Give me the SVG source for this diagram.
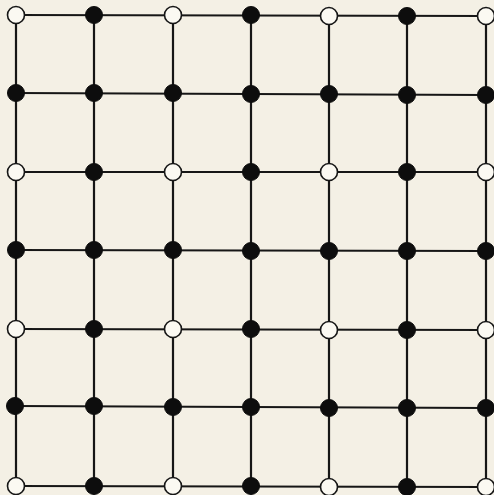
<svg xmlns="http://www.w3.org/2000/svg" width="494" height="495" viewBox="0 0 494 495">
<style>
.bg{fill:#f4f0e5}
.e line{stroke:#161616;stroke-width:2.2;stroke-linecap:round}
.f{fill:#0d0d0d;stroke:#0d0d0d;stroke-width:1}
.o{fill:#fbf9f2;stroke:#161616;stroke-width:1.6}
</style>
<rect class="bg" x="0" y="0" width="494" height="495"/>
<g id="connectors" class="e">
<line x1="15" y1="15" x2="486" y2="16"/>
<line x1="15" y1="93" x2="486" y2="95"/>
<line x1="15" y1="172" x2="486" y2="172"/>
<line x1="15" y1="250" x2="486" y2="251"/>
<line x1="15" y1="329" x2="486" y2="330"/>
<line x1="15" y1="406" x2="486" y2="408"/>
<line x1="15" y1="486" x2="486" y2="487"/>
<line x1="16" y1="15" x2="16" y2="486"/>
<line x1="94" y1="15" x2="94" y2="486"/>
<line x1="173" y1="15" x2="173" y2="486"/>
<line x1="251" y1="15" x2="251" y2="486"/>
<line x1="329" y1="15" x2="329" y2="486"/>
<line x1="407" y1="15" x2="407" y2="486"/>
<line x1="486" y1="15" x2="486" y2="486"/>
</g>
<g id="n00"><circle class="o" cx="16" cy="15" r="8.5"/></g>
<g id="n01"><circle class="f" cx="94" cy="15" r="8.5"/></g>
<g id="n02"><circle class="o" cx="173" cy="15" r="8.5"/></g>
<g id="n03"><circle class="f" cx="251" cy="15" r="8.5"/></g>
<g id="n04"><circle class="o" cx="329" cy="16" r="8.5"/></g>
<g id="n05"><circle class="f" cx="407" cy="16" r="8.5"/></g>
<g id="n06"><circle class="o" cx="486" cy="16" r="8.5"/></g>
<g id="n10"><circle class="f" cx="16" cy="93" r="8.5"/></g>
<g id="n11"><circle class="f" cx="94" cy="93" r="8.5"/></g>
<g id="n12"><circle class="f" cx="173" cy="93" r="8.5"/></g>
<g id="n13"><circle class="f" cx="251" cy="94" r="8.5"/></g>
<g id="n14"><circle class="f" cx="329" cy="94" r="8.5"/></g>
<g id="n15"><circle class="f" cx="407" cy="95" r="8.5"/></g>
<g id="n16"><circle class="f" cx="486" cy="95" r="8.5"/></g>
<g id="n20"><circle class="o" cx="16" cy="172" r="8.5"/></g>
<g id="n21"><circle class="f" cx="94" cy="172" r="8.5"/></g>
<g id="n22"><circle class="o" cx="173" cy="172" r="8.5"/></g>
<g id="n23"><circle class="f" cx="251" cy="172" r="8.5"/></g>
<g id="n24"><circle class="o" cx="329" cy="172" r="8.5"/></g>
<g id="n25"><circle class="f" cx="407" cy="172" r="8.5"/></g>
<g id="n26"><circle class="o" cx="486" cy="172" r="8.5"/></g>
<g id="n30"><circle class="f" cx="16" cy="250" r="8.5"/></g>
<g id="n31"><circle class="f" cx="94" cy="250" r="8.5"/></g>
<g id="n32"><circle class="f" cx="173" cy="250" r="8.5"/></g>
<g id="n33"><circle class="f" cx="251" cy="251" r="8.5"/></g>
<g id="n34"><circle class="f" cx="329" cy="251" r="8.5"/></g>
<g id="n35"><circle class="f" cx="407" cy="251" r="8.5"/></g>
<g id="n36"><circle class="f" cx="486" cy="251" r="8.5"/></g>
<g id="n40"><circle class="o" cx="16" cy="329" r="8.5"/></g>
<g id="n41"><circle class="f" cx="94" cy="329" r="8.5"/></g>
<g id="n42"><circle class="o" cx="173" cy="329" r="8.5"/></g>
<g id="n43"><circle class="f" cx="251" cy="329" r="8.5"/></g>
<g id="n44"><circle class="o" cx="329" cy="330" r="8.5"/></g>
<g id="n45"><circle class="f" cx="407" cy="330" r="8.5"/></g>
<g id="n46"><circle class="o" cx="486" cy="330" r="8.5"/></g>
<g id="n50"><circle class="f" cx="15" cy="406" r="8.5"/></g>
<g id="n51"><circle class="f" cx="94" cy="406" r="8.5"/></g>
<g id="n52"><circle class="f" cx="173" cy="407" r="8.5"/></g>
<g id="n53"><circle class="f" cx="251" cy="407" r="8.5"/></g>
<g id="n54"><circle class="f" cx="329" cy="408" r="8.5"/></g>
<g id="n55"><circle class="f" cx="407" cy="408" r="8.5"/></g>
<g id="n56"><circle class="f" cx="486" cy="408" r="8.5"/></g>
<g id="n60"><circle class="o" cx="16" cy="486" r="8.5"/></g>
<g id="n61"><circle class="f" cx="94" cy="486" r="8.5"/></g>
<g id="n62"><circle class="o" cx="173" cy="486" r="8.5"/></g>
<g id="n63"><circle class="f" cx="251" cy="486" r="8.5"/></g>
<g id="n64"><circle class="o" cx="329" cy="487" r="8.5"/></g>
<g id="n65"><circle class="f" cx="407" cy="487" r="8.5"/></g>
<g id="n66"><circle class="o" cx="486" cy="487" r="8.5"/></g>
</svg>
